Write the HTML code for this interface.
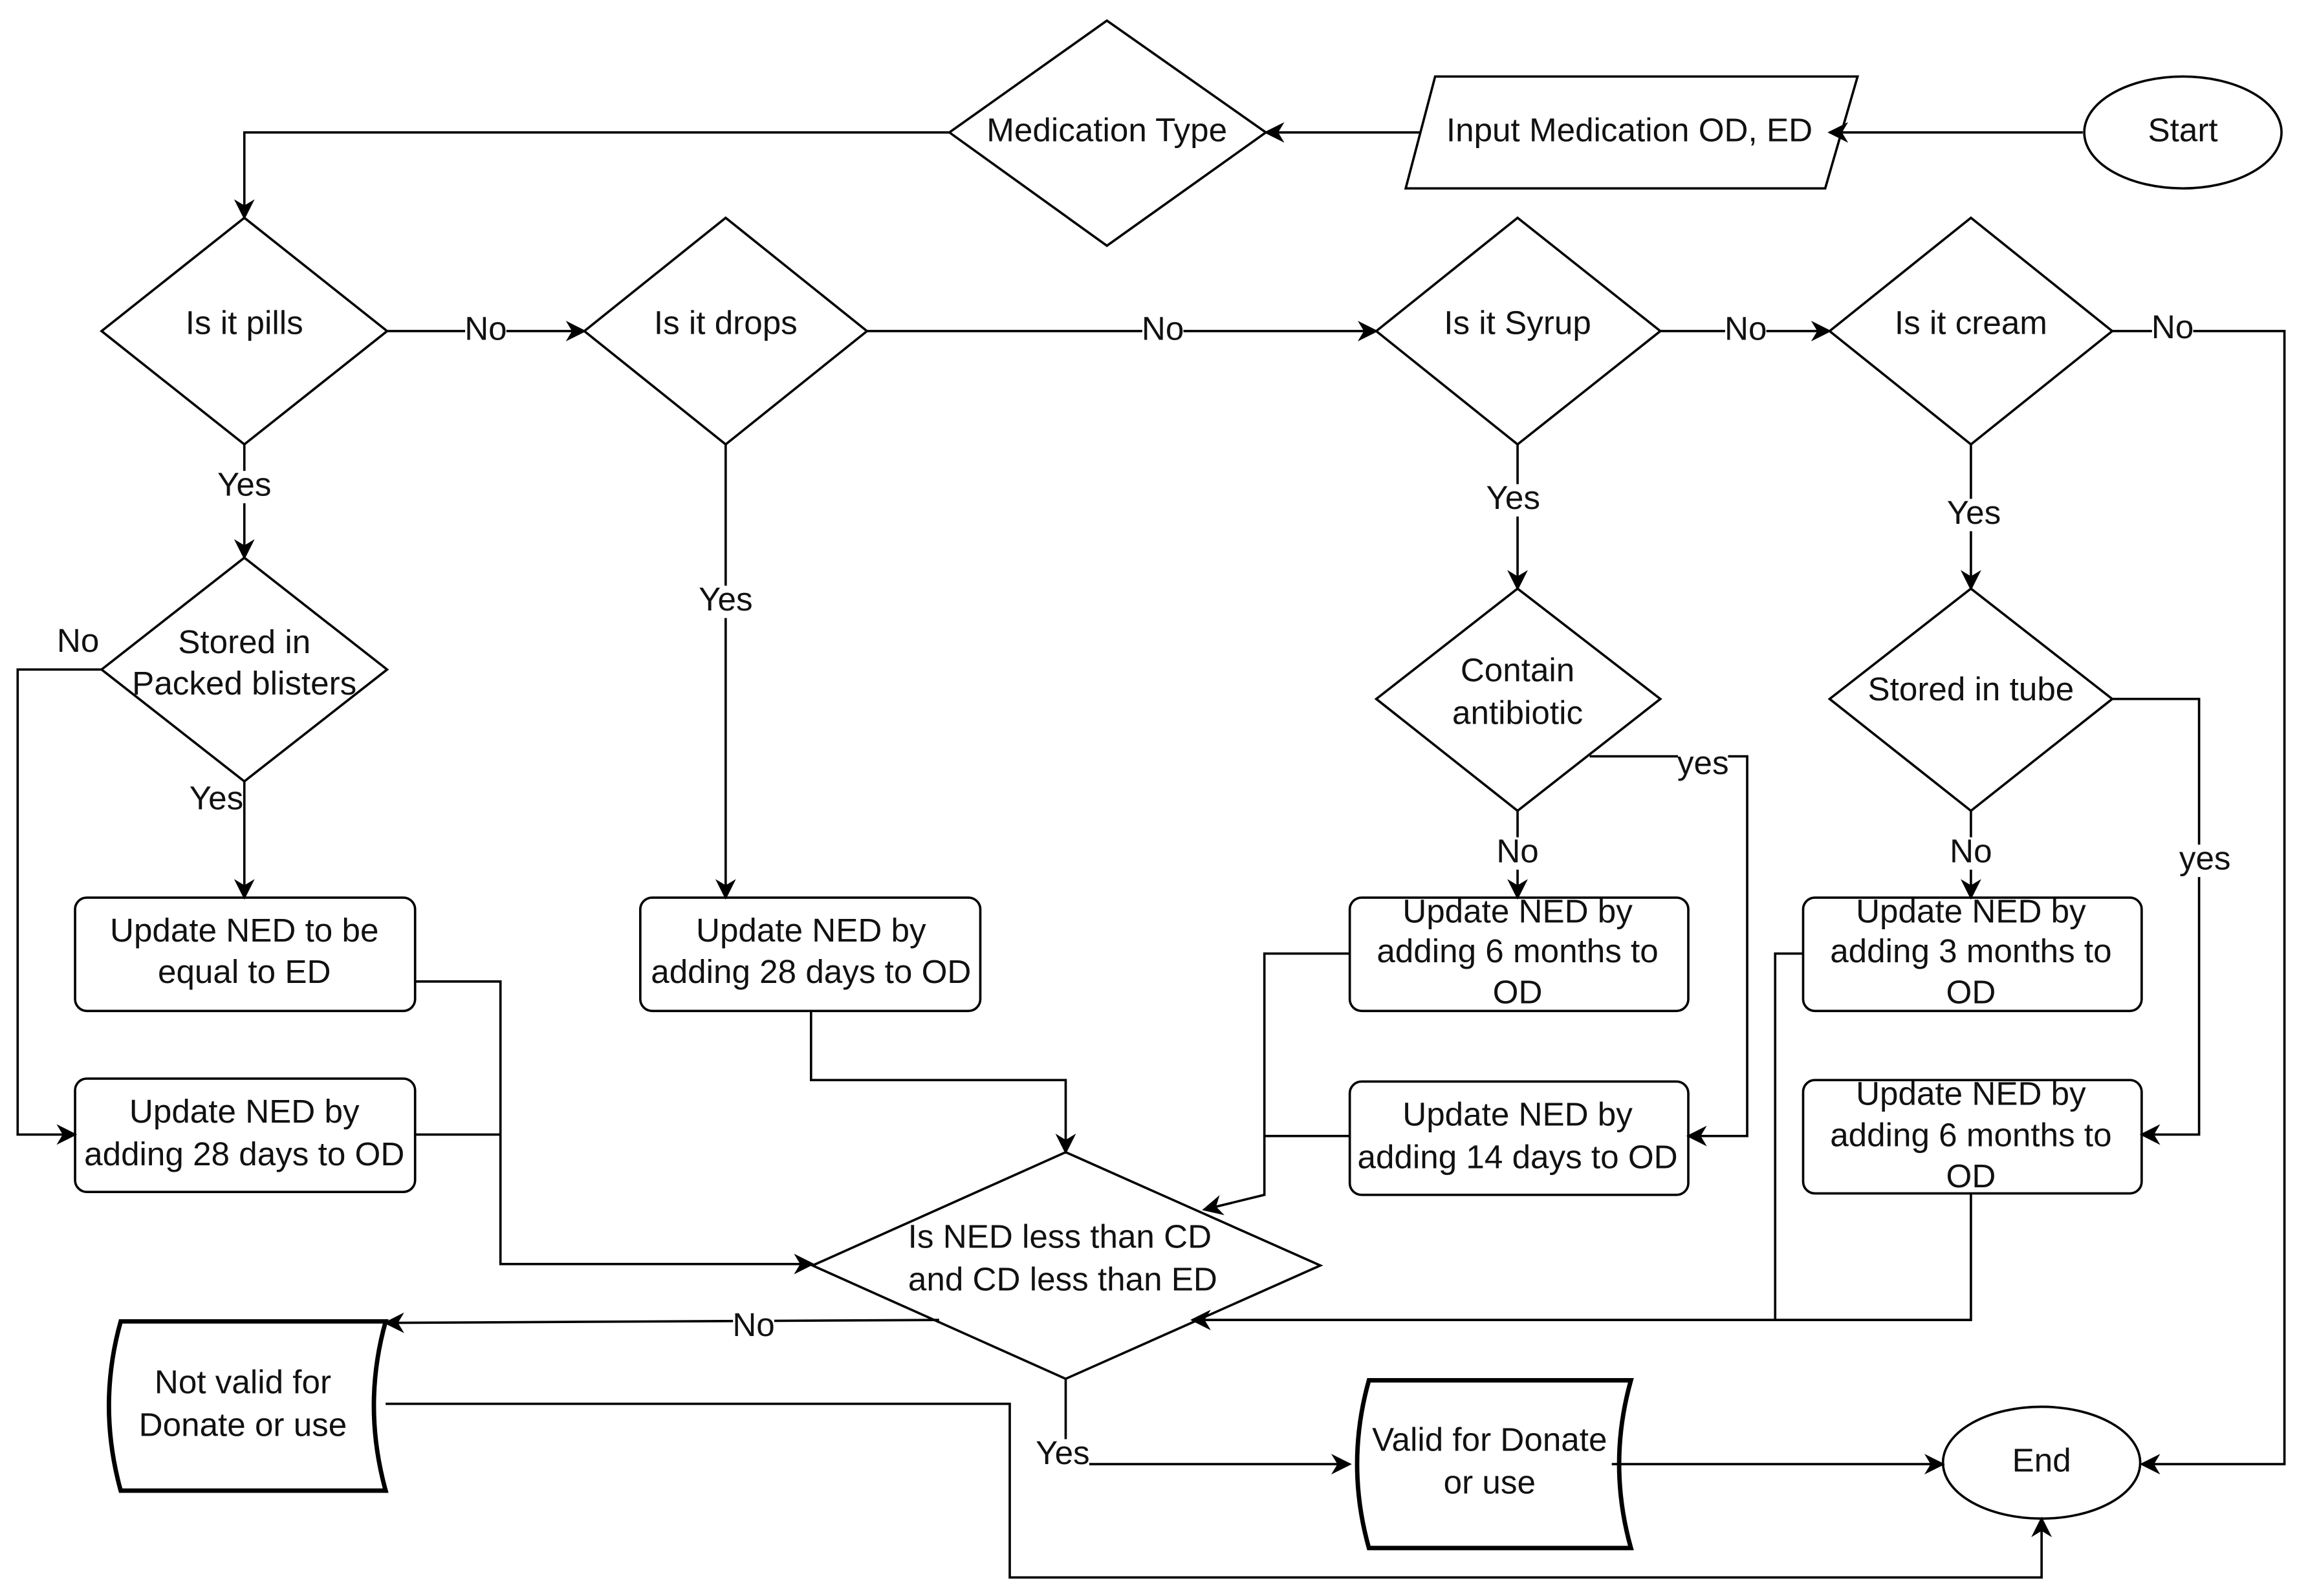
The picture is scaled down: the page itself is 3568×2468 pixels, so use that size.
<!DOCTYPE html>
<html><head><meta charset="utf-8"><style>
html,body{margin:0;padding:0;background:#fff;}
svg{display:block;}
text{font-family:"Liberation Sans",Arial,sans-serif;font-size:22.5px;fill:#111;text-anchor:middle;dominant-baseline:middle;}
</style></head><body>
<svg width="3568" height="2468" viewBox="0 0 1568 1084.6" preserveAspectRatio="none" xmlns="http://www.w3.org/2000/svg">
<defs>
<marker id="b" viewBox="0 0 10 10" refX="9" refY="5" markerWidth="14" markerHeight="14" markerUnits="userSpaceOnUse" orient="auto">
<path d="M0,0 L10,5 L0,10 L3,5 Z" fill="#000"/></marker>
</defs>
<g fill="none" stroke="#000" stroke-width="1.6">
<ellipse cx="1483" cy="90" rx="67" ry="38" fill="#fff"/>
<polygon points="975,52 1262,52 1240,128 955,128" fill="#fff"/>
<polygon points="752,14 860,90 752,167 645,90" fill="#fff"/>
<polygon points="166,148 263,225 166,302 69,225" fill="#fff"/>
<polygon points="493,148 589,225 493,302 397,225" fill="#fff"/>
<polygon points="1031,148 1128,225 1031,302 935,225" fill="#fff"/>
<polygon points="1339,148 1435,225 1339,302 1243,225" fill="#fff"/>
<polygon points="166,379 263,455 166,531 69,455" fill="#fff"/>
<polygon points="1031,400 1128,475 1031,551 935,475" fill="#fff"/>
<polygon points="1339,400 1435,475 1339,551 1243,475" fill="#fff"/>
<polygon points="724,783 897,860 724,937 552,860" fill="#fff"/>
<rect x="51" y="610" width="231" height="77" rx="8" fill="#fff"/>
<rect x="51" y="733" width="231" height="77" rx="8" fill="#fff"/>
<rect x="435" y="610" width="231" height="77" rx="8" fill="#fff"/>
<rect x="917" y="610" width="230" height="77" rx="8" fill="#fff"/>
<rect x="917" y="735" width="230" height="77" rx="8" fill="#fff"/>
<rect x="1225" y="610" width="230" height="77" rx="8" fill="#fff"/>
<rect x="1225" y="734" width="230" height="77" rx="8" fill="#fff"/>
<ellipse cx="1387" cy="994" rx="67" ry="38" fill="#fff"/>
<path d="M82,898 L262,898 Q246,955 262,1013 L82,1013 Q66,955 82,898 Z" fill="#fff" stroke-width="3"/>
<path d="M930,938 L1108,938 Q1092,995 1108,1052 L930,1052 Q914,995 930,938 Z" fill="#fff" stroke-width="3"/>
<line x1="1415" y1="90" x2="1243" y2="90" marker-end="url(#b)"/>
<line x1="965" y1="90" x2="860" y2="90" marker-end="url(#b)"/>
<polyline points="645,90 166,90 166,148" marker-end="url(#b)"/>
<line x1="263" y1="225" x2="397" y2="225" marker-end="url(#b)"/>
<line x1="589" y1="225" x2="935" y2="225" marker-end="url(#b)"/>
<line x1="1128" y1="225" x2="1243" y2="225" marker-end="url(#b)"/>
<polyline points="1435,225 1552,225 1552,995 1455,995" marker-end="url(#b)"/>
<line x1="166" y1="302" x2="166" y2="379" marker-end="url(#b)"/>
<polyline points="69,455 12,455 12,771 51,771" marker-end="url(#b)"/>
<line x1="166" y1="531" x2="166" y2="610" marker-end="url(#b)"/>
<line x1="493" y1="302" x2="493" y2="610" marker-end="url(#b)"/>
<polyline points="282,667 340,667 340,859 552,859" marker-end="url(#b)"/>
<line x1="282" y1="771" x2="340" y2="771"/>
<polyline points="551,687 551,734 724,734 724,783" marker-end="url(#b)"/>
<line x1="1031" y1="302" x2="1031" y2="400" marker-end="url(#b)"/>
<line x1="1031" y1="551" x2="1031" y2="610" marker-end="url(#b)"/>
<polyline points="1080,514 1187,514 1187,772 1147,772" marker-end="url(#b)"/>
<polyline points="917,648 859,648 859,812 818,822" marker-end="url(#b)"/>
<line x1="917" y1="772" x2="859" y2="772"/>
<line x1="1339" y1="302" x2="1339" y2="400" marker-end="url(#b)"/>
<line x1="1339" y1="551" x2="1339" y2="610" marker-end="url(#b)"/>
<polyline points="1435,475 1494,475 1494,771 1455,771" marker-end="url(#b)"/>
<polyline points="1225,648 1206,648 1206,897"/>
<polyline points="1339,811 1339,897 810,897" marker-end="url(#b)"/>
<line x1="638" y1="897" x2="262" y2="899" marker-end="url(#b)"/>
<polyline points="262,954 686,954 686,1072 1387,1072 1387,1032" marker-end="url(#b)"/>
<polyline points="724,937 724,995 917,995" marker-end="url(#b)"/>
<line x1="1095" y1="995" x2="1320" y2="995" marker-end="url(#b)"/>
</g>
<g>
<rect x="316" y="214" width="28" height="22" fill="#fff"/><text x="330" y="225">No</text>
<rect x="776" y="214" width="28" height="22" fill="#fff"/><text x="790" y="225">No</text>
<rect x="1172" y="214" width="28" height="22" fill="#fff"/><text x="1186" y="225">No</text>
<rect x="1462" y="214" width="28" height="22" fill="#fff"/><text x="1476" y="224">No</text>
<rect x="148" y="320" width="36" height="22" fill="#fff"/><text x="166" y="331">Yes</text>
<rect x="475" y="398" width="36" height="22" fill="#fff"/><text x="493" y="409">Yes</text>
<rect x="1010" y="329" width="36" height="22" fill="#fff"/><text x="1028" y="340">Yes</text>
<rect x="1323" y="339" width="36" height="22" fill="#fff"/><text x="1341" y="350">Yes</text>
<text x="53" y="437">No</text>
<rect x="129" y="533" width="36" height="22" fill="#fff"/><text x="147" y="544">Yes</text>
<rect x="1017" y="569" width="28" height="22" fill="#fff"/><text x="1031" y="580">No</text>
<rect x="1325" y="569" width="28" height="22" fill="#fff"/><text x="1339" y="580">No</text>
<rect x="1140" y="509" width="34" height="22" fill="#fff"/><text x="1157" y="520">yes</text>
<rect x="1481" y="574" width="34" height="22" fill="#fff"/><text x="1498" y="585">yes</text>
<rect x="498" y="891" width="28" height="22" fill="#fff"/><text x="512" y="902">No</text>
<rect x="704" y="978" width="36" height="22" fill="#fff"/><text x="722" y="989">Yes</text>

<text x="1483" y="90">Start</text>
<text x="1107" y="90">Input Medication OD, ED</text>
<text x="752" y="90">Medication Type</text>
<text x="166" y="221">Is it pills</text>
<text x="493" y="221">Is it drops</text>
<text x="1031" y="221">Is it Syrup</text>
<text x="1339" y="221">Is it cream</text>
<text x="166" y="438">Stored in</text>
<text x="166" y="466">Packed blisters</text>
<text x="1031" y="457">Contain</text>
<text x="1031" y="486">antibiotic</text>
<text x="1339" y="470">Stored in tube</text>
<text x="166" y="634">Update  NED to be</text>
<text x="166" y="662">equal to ED</text>
<text x="166" y="757">Update  NED by</text>
<text x="166" y="786">adding 28 days to OD</text>
<text x="551" y="634">Update  NED by</text>
<text x="551" y="662">adding 28 days to OD</text>
<text x="1031" y="621">Update NED by</text>
<text x="1031" y="648">adding 6 months to</text>
<text x="1031" y="676">OD</text>
<text x="1031" y="759">Update NED by</text>
<text x="1031" y="788">adding 14 days to OD</text>
<text x="1339" y="621">Update NED by</text>
<text x="1339" y="648">adding 3 months to</text>
<text x="1339" y="676">OD</text>
<text x="1339" y="745">Update NED by</text>
<text x="1339" y="773">adding 6 months to</text>
<text x="1339" y="801">OD</text>
<text x="720" y="842">Is NED less than CD</text>
<text x="722" y="871">and CD less than ED</text>
<text x="165" y="941">Not valid for</text>
<text x="165" y="970">Donate or use</text>
<text x="1012" y="980">Valid for Donate</text>
<text x="1012" y="1009">or use</text>
<text x="1387" y="994">End</text>
</g>
</svg>
</body></html>
